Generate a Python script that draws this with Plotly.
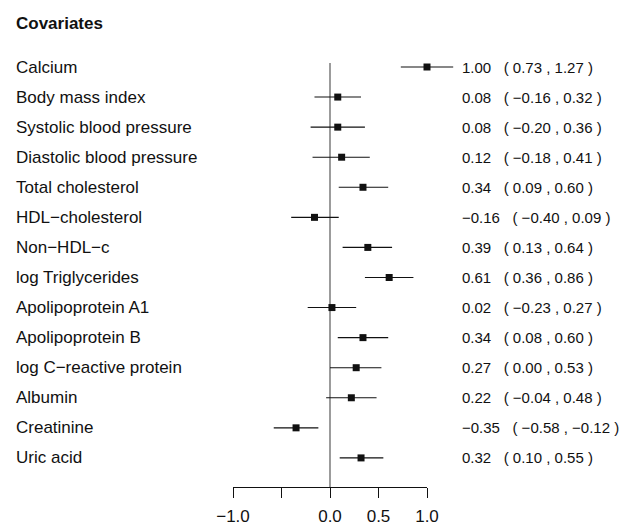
import plotly.graph_objects as go

covariates = ["Calcium", "Body mass index", "Systolic blood pressure",
              "Diastolic blood pressure", "Total cholesterol", "HDL\u2212cholesterol",
              "Non\u2212HDL\u2212c", "log Triglycerides", "Apolipoprotein A1",
              "Apolipoprotein B", "log C\u2212reactive protein", "Albumin",
              "Creatinine", "Uric acid"]
estimate = [1.00, 0.08, 0.08, 0.12, 0.34, -0.16, 0.39, 0.61, 0.02, 0.34, 0.27, 0.22, -0.35, 0.32]
lower = [0.73, -0.16, -0.20, -0.18, 0.09, -0.40, 0.13, 0.36, -0.23, 0.08, 0.00, -0.04, -0.58, 0.10]
upper = [1.27, 0.32, 0.36, 0.41, 0.60, 0.09, 0.64, 0.86, 0.27, 0.60, 0.53, 0.48, -0.12, 0.55]
tick_vals = [-1.0, -0.5, 0.0, 0.5, 1.0]
tick_text = ["\u22121.0", "", "0.0", "0.5", "1.0"]
title = "Covariates"

# page body adds an 8px margin; the figure is sized to fit the window
OFF = 8
W, H = 630 - OFF, 526 - OFF
PX_PER_UNIT = 97.0
ZERO_PX = 330.0 - OFF
ROW0_PX = 67.0 - OFF
ROW_STEP = 30.07

xmin = -ZERO_PX / PX_PER_UNIT
xmax = (W - ZERO_PX) / PX_PER_UNIT
ytop = -ROW0_PX / ROW_STEP
ybot = (H - ROW0_PX) / ROW_STEP


def fmt(v):
    return f"{v:.2f}".replace("-", "\u2212")


def py(screen_y):
    return (screen_y - OFF - ROW0_PX) / ROW_STEP


def px(screen_x):
    return (screen_x - OFF) / W


rows = list(range(len(covariates)))

fig = go.Figure()

for i in rows:
    fig.add_trace(go.Scatter(x=[lower[i], upper[i]], y=[i, i], mode="lines",
                             line=dict(color="#111111", width=1.1),
                             showlegend=False, hoverinfo="skip"))
fig.add_trace(go.Scatter(x=estimate, y=rows, mode="markers",
                         marker=dict(symbol="square", size=7, color="#111111"),
                         showlegend=False))
fig.add_trace(go.Scatter(x=tick_vals, y=[0] * len(tick_vals), mode="none",
                         xaxis="x2", yaxis="y", showlegend=False, hoverinfo="skip"))

axis_screen_y = 487
fig.add_shape(type="line", xref="x", yref="y", x0=0, x1=0, y0=py(63), y1=py(axis_screen_y),
              line=dict(color="#666666", width=1.3), layer="below")

FAM = "Liberation Sans, Arial, sans-serif"
font_left = dict(family=FAM, size=17, color="#111111")
font_right = dict(family=FAM, size=15, color="#111111")

annotations = [dict(x=px(14), xref="paper", y=py(23), yref="y",
                    text="<b>" + title + "</b>", showarrow=False, xanchor="left",
                    yanchor="middle", font=font_left)]
for i in rows:
    annotations.append(dict(x=px(14), xref="paper", y=i, yref="y", text=covariates[i],
                            showarrow=False, xanchor="left", yanchor="middle", font=font_left))
    annotations.append(dict(x=px(460), xref="paper", y=i, yref="y",
                            text=f"{fmt(estimate[i])}   ( {fmt(lower[i])} , {fmt(upper[i])} )",
                            showarrow=False, xanchor="left", yanchor="middle", font=font_right))

d0 = (tick_vals[0] - xmin) / (xmax - xmin)
d1 = (tick_vals[-1] - xmin) / (xmax - xmin)

fig.update_layout(
    width=W, height=H,
    margin=dict(l=0, r=0, t=0, b=0),
    paper_bgcolor="white", plot_bgcolor="rgba(0,0,0,0)",
    showlegend=False,
    xaxis=dict(range=[xmin, xmax], visible=False, domain=[0, 1]),
    xaxis2=dict(range=[tick_vals[0], tick_vals[-1]], domain=[d0, d1], anchor="free",
                position=1 - (axis_screen_y - OFF) / H, tickvals=tick_vals, ticktext=tick_text,
                ticks="outside", ticklen=10, tickwidth=1, tickcolor="#111111",
                showline=True, linecolor="#111111", linewidth=1, showgrid=False,
                zeroline=False, automargin=False, ticklabelstandoff=4,
                tickfont=dict(family=FAM, size=17, color="#111111")),
    yaxis=dict(range=[ybot, ytop], visible=False, domain=[0, 1]),
    annotations=annotations,
)

fig.write_html("out.html")
